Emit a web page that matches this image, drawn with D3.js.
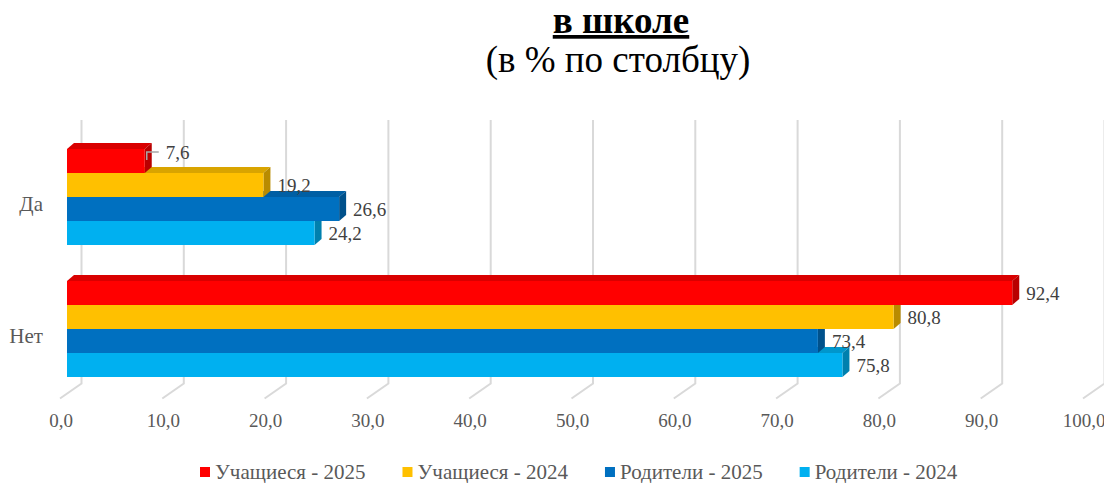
<!DOCTYPE html>
<html>
<head>
<meta charset="utf-8">
<script src="https://cdn.jsdelivr.net/npm/d3@7"></script>
<style>
  body { margin: 0; background: #fff; }
  svg { display: block; font-family: "Liberation Serif", "Times New Roman", serif; }
</style>
</head>
<body>
<div id="chart"></div>
<script>
// chart data
const categories = ["Да", "Нет"];
const seriesNames = ["Учащиеся - 2025", "Учащиеся - 2024", "Родители - 2025", "Родители - 2024"];
const students2025 = [7.6, 92.4];
const students2024 = [19.2, 80.8];
const parents2025 = [26.6, 73.4];
const parents2024 = [24.2, 75.8];
const tickValues = [0, 10, 20, 30, 40, 50, 60, 70, 80, 90, 100];
const colors = ["#ff0000", "#ffc000", "#0070c0", "#00b0f0"];

const seriesValues = [students2025, students2024, parents2025, parents2024];

const W = 1104, H = 483;
const depthX = 7, depthY = -6;      // bar depth (3d look)
const wallX = 21.5, wallY = -15;    // back wall offset from floor front

const svg = d3.select("#chart")
  .append("svg")
  .attr("width", W)
  .attr("height", H);

// title
svg.append("text")
  .attr("x", 621)
  .attr("y", 33)
  .attr("text-anchor", "middle")
  .attr("font-family", "Liberation Serif")
  .attr("font-size", 37)
  .attr("font-weight", "bold")
  .attr("text-decoration", "underline")
  .attr("fill", "#000")
  .text("в школе");

svg.append("text")
  .attr("x", 618)
  .attr("y", 72)
  .attr("text-anchor", "middle")
  .attr("font-family", "Liberation Serif")
  .attr("font-size", 37)
  .attr("fill", "#000")
  .text("(в % по столбцу)");

// scales
const x = d3.scaleLinear().domain([0, 100]).range([60, 1083]);
const y = d3.scaleBand()
  .domain(categories)
  .range([131, 395])
  .paddingInner(0.2727)
  .paddingOuter(0.1364);
const ySeries = d3.scaleBand()
  .domain(d3.range(seriesNames.length))
  .range([0, y.bandwidth()])
  .padding(0);

// gridlines: back wall verticals + floor diagonals
const floorFront = 398.5;
const grid = svg.append("g")
  .attr("stroke", "#d9d9d9")
  .attr("stroke-width", 2)
  .attr("fill", "none");
grid.selectAll("path")
  .data(tickValues)
  .join("path")
  .attr("d", d => {
    const bx = x(d) + wallX;
    return `M${bx},120 L${bx},${floorFront + wallY} L${x(d)},${floorFront}`;
  });

// tick labels
svg.append("g")
  .selectAll("text")
  .data(tickValues)
  .join("text")
  .attr("x", d => x(d) + 1)
  .attr("y", 427)
  .attr("text-anchor", "middle")
  .attr("font-size", 19)
  .attr("fill", "#595959")
  .text(d => d3.format(".1f")(d).replace(".", ","));

// category labels
svg.append("g")
  .selectAll("text")
  .data(categories)
  .join("text")
  .attr("x", 43)
  .attr("y", d => y(d) + y.bandwidth() / 2 + 14)
  .attr("text-anchor", "end")
  .attr("font-size", 21)
  .attr("fill", "#595959")
  .text(d => d);

// bars, drawn bottom series first so upper bars overlap their top faces
const bars = [];
categories.forEach((c, ci) => {
  seriesNames.forEach((s, si) => {
    bars.push({ cat: c, si: si, value: seriesValues[si][ci] });
  });
});
bars.sort((a, b) => b.si - a.si);

const x0 = x(0) + 7;
const barG = svg.append("g");
bars.forEach(b => {
  const top = y(b.cat) + ySeries(b.si);
  const h = ySeries.bandwidth();
  const x1 = x(b.value) + 7;
  const col = d3.color(colors[b.si]);
  const g = barG.append("g");
  // top face
  g.append("path")
    .attr("d", `M${x0},${top} L${x0 + depthX},${top + depthY} L${x1 + depthX},${top + depthY} L${x1},${top} Z`)
    .attr("fill", col.darker(0.45));
  // side face
  g.append("path")
    .attr("d", `M${x1},${top} L${x1 + depthX},${top + depthY} L${x1 + depthX},${top + h + depthY} L${x1},${top + h} Z`)
    .attr("fill", col.darker(0.9));
  // front face
  g.append("rect")
    .attr("x", x0)
    .attr("y", top)
    .attr("width", x1 - x0)
    .attr("height", h)
    .attr("fill", col);
});

// data labels
const fmt = v => d3.format(".1f")(v).replace(".", ",");
const labelG = svg.append("g")
  .attr("font-size", 19)
  .attr("fill", "#404040");
bars.forEach(b => {
  const top = y(b.cat) + ySeries(b.si);
  const cy = top + ySeries.bandwidth() / 2;
  const xe = x(b.value) + 7 + depthX;
  if (b.value < 10) {
    // small bar: label moved up with a leader line
    svg.append("path")
      .attr("d", `M${xe - 5},${cy - 1} L${xe - 5},${cy - 9} L${xe + 7},${cy - 9}`)
      .attr("fill", "none")
      .attr("stroke", "#a6a6a6")
      .attr("stroke-width", 1.5);
    labelG.append("text")
      .attr("x", xe + 14)
      .attr("y", cy - 9)
      .attr("dy", "0.35em")
      .text(fmt(b.value));
  } else {
    labelG.append("text")
      .attr("x", xe + 7)
      .attr("y", cy)
      .attr("dy", "0.35em")
      .text(fmt(b.value));
  }
});

// legend
const legend = svg.append("g").attr("font-size", 21).attr("fill", "#595959");
let lx = 200;
seriesNames.forEach((s, i) => {
  legend.append("rect")
    .attr("x", lx)
    .attr("y", 467)
    .attr("width", 10)
    .attr("height", 10)
    .attr("fill", colors[i]);
  const t = legend.append("text")
    .attr("x", lx + 15)
    .attr("y", 479)
    .text(s);
  lx += 15 + t.node().getComputedTextLength() + 37;
});
</script>
</body>
</html>
